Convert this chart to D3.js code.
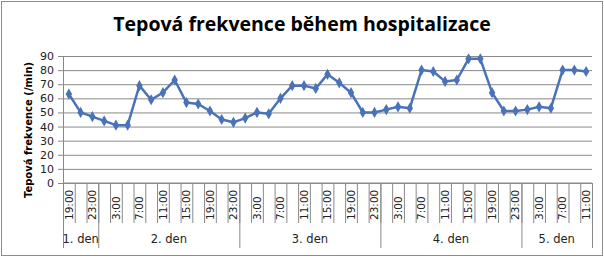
<!DOCTYPE html>
<html>
<head>
<meta charset="utf-8">
<script src="https://cdn.jsdelivr.net/npm/d3@7"></script>
<style>
  body { margin: 0; background: #fff; }
  svg { display: block; }
</style>
</head>
<body>
<div id="chart"></div>
<script>
// chart data
var times = ["19:00", "21:00", "23:00",
    "1:00", "3:00", "5:00", "7:00", "9:00", "11:00", "13:00", "15:00", "17:00", "19:00", "21:00", "23:00",
    "1:00", "3:00", "5:00", "7:00", "9:00", "11:00", "13:00", "15:00", "17:00", "19:00", "21:00", "23:00",
    "1:00", "3:00", "5:00", "7:00", "9:00", "11:00", "13:00", "15:00", "17:00", "19:00", "21:00", "23:00",
    "1:00", "3:00", "5:00", "7:00", "9:00", "11:00"];
var pulse = [63, 50, 47, 44, 41, 41, 69, 59, 64, 73, 57, 56, 51, 45, 43, 46, 50, 49, 60, 69, 69, 67, 77,
    71, 64, 50, 50, 52, 54, 53, 80, 79, 72, 73, 88, 88, 64, 51, 51, 52, 54, 53, 80, 80, 79];
var dayNames = ["1. den", "2. den", "3. den", "4. den", "5. den"];
var dayLengths = [3, 12, 12, 12, 6];
var yTicks = [0, 10, 20, 30, 40, 50, 60, 70, 80, 90];

var W = 604, H = 258;
var margin = {top: 56, right: 12, bottom: 75, left: 63};
var width = 592 - margin.left,
    height = 183 - margin.top;

var svg = d3.select("#chart").append("svg")
    .attr("width", W)
    .attr("height", H);

// outer frame
svg.append("rect")
    .attr("x", 1.5).attr("y", 1.5)
    .attr("width", W - 3).attr("height", H - 4)
    .attr("fill", "#fff")
    .attr("stroke", "#8c8c8c");

svg.append("text")
    .attr("x", 302)
    .attr("y", 31)
    .attr("text-anchor", "middle")
    .style("font-family", "Open Sans, sans-serif")
    .style("font-weight", "bold")
    .style("font-size", "19.5px")
    .text("Tepová frekvence během hospitalizace");

var g = svg.append("g")
    .attr("transform", "translate(" + margin.left + "," + margin.top + ")");

var idx = times.map(function (d, i) { return i; });
var x = d3.scaleBand()
    .domain(idx)
    .range([0, width])
    .padding(0);

var y = d3.scaleLinear()
    .domain([0, 90])
    .range([height, 0]);

// gridlines
g.append("g")
    .call(d3.axisLeft(y).tickValues(yTicks).tickSize(-width).tickFormat(""))
    .call(function (s) { s.select(".domain").remove(); })
    .selectAll("line")
    .attr("stroke", "#8a8a8a");

// y axis
var yAxis = g.append("g")
    .call(d3.axisLeft(y).tickValues(yTicks).tickSize(5).tickPadding(4));
yAxis.select(".domain").attr("stroke", "#8a8a8a");
yAxis.selectAll("line").attr("stroke", "#8a8a8a");
yAxis.selectAll("text")
    .style("font-family", "DejaVu Sans, sans-serif")
    .style("font-size", "11px")
    .attr("fill", "#222");

svg.append("text")
    .attr("transform", "translate(28,130) rotate(-90)")
    .attr("text-anchor", "middle")
    .attr("dy", "0.35em")
    .style("font-family", "DejaVu Sans, sans-serif")
    .style("font-weight", "bold")
    .style("font-size", "10px")
    .text("Tepová frekvence (/min)");

// x axis: categories, with every other label shown
var xa = g.append("g").attr("transform", "translate(0," + height + ")");
xa.append("line")
    .attr("x1", 0).attr("x2", width)
    .attr("stroke", "#8a8a8a");
xa.selectAll(".tick")
    .data(idx.concat([idx.length]))
    .enter().append("line")
    .attr("x1", function (i) { return i < idx.length ? x(i) + 0.5 : width + 0.5; })
    .attr("x2", function (i) { return i < idx.length ? x(i) + 0.5 : width + 0.5; })
    .attr("y1", 0).attr("y2", 40)
    .attr("stroke", "#8a8a8a");
xa.selectAll(".lab")
    .data(idx.filter(function (i) { return i % 2 === 0; }))
    .enter().append("text")
    .attr("transform", function (i) {
        return "translate(" + (x(i) + x.bandwidth() / 2) + ",37) rotate(-90)";
    })
    .attr("dy", "0.35em")
    .style("font-family", "DejaVu Sans, sans-serif")
    .style("font-size", "10.5px")
    .attr("fill", "#222")
    .text(function (i) { return times[i]; });

// day groups
var starts = [];
var acc = 0;
dayLengths.forEach(function (n) { starts.push(acc); acc += n; });
starts.push(acc);
xa.selectAll(".sep")
    .data(starts)
    .enter().append("line")
    .attr("x1", function (s) { return (s < idx.length ? x(s) : width) + 0.5; })
    .attr("x2", function (s) { return (s < idx.length ? x(s) : width) + 0.5; })
    .attr("y1", 0).attr("y2", 65)
    .attr("stroke", "#8a8a8a");
xa.selectAll(".day")
    .data(dayNames)
    .enter().append("text")
    .attr("x", function (d, i) {
        var a = x(starts[i]);
        var b = starts[i + 1] < idx.length ? x(starts[i + 1]) : width;
        return (a + b) / 2;
    })
    .attr("y", 60)
    .attr("text-anchor", "middle")
    .style("font-family", "DejaVu Sans, sans-serif")
    .style("font-size", "11.5px")
    .attr("fill", "#222")
    .text(function (d) { return d; });

// line + markers
var line = d3.line()
    .x(function (d, i) { return x(i) + x.bandwidth() / 2; })
    .y(function (d) { return y(d); });

g.append("path")
    .datum(pulse)
    .attr("fill", "none")
    .attr("stroke", "#4A72B8")
    .attr("stroke-width", 2.5)
    .attr("stroke-linejoin", "round")
    .attr("d", line);

g.selectAll(".pt")
    .data(pulse)
    .enter().append("path")
    .attr("d", d3.symbol().type(d3.symbolDiamond).size(36))
    .attr("transform", function (d, i) {
        return "translate(" + (x(i) + x.bandwidth() / 2) + "," + y(d) + ")";
    })
    .attr("fill", "#4A72B8");
</script>
</body>
</html>
